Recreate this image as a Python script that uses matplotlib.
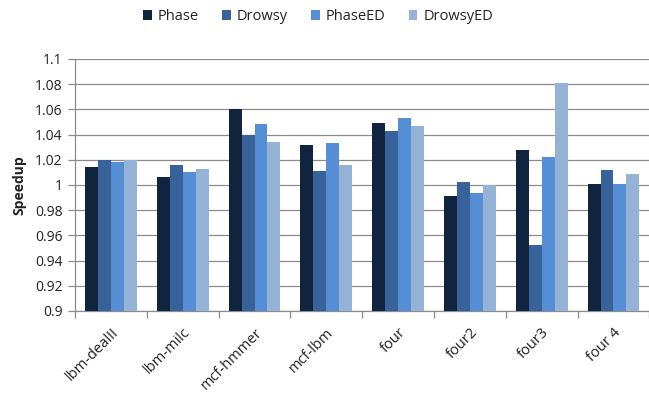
import numpy as np
import matplotlib as mpl
mpl.use('Agg')
import matplotlib.pyplot as plt
from matplotlib.ticker import FixedLocator

mpl.rcParams['font.family'] = ['Open Sans', 'DejaVu Sans']

benchmarks = ["lbm-dealII", "lbm-milc", "mcf-hmmer", "mcf-lbm",
              "four", "four2", "four3", "four 4"]
phase = [1.014, 1.006, 1.060, 1.032, 1.049, 0.991, 1.028, 1.001]
drowsy = [1.020, 1.016, 1.040, 1.011, 1.043, 1.002, 0.952, 1.012]
phase_ed = [1.018, 1.010, 1.048, 1.033, 1.053, 0.994, 1.022, 1.001]
drowsy_ed = [1.020, 1.013, 1.034, 1.016, 1.047, 1.000, 1.081, 1.009]

series = [("Phase", phase, "#10243f"),
          ("Drowsy", drowsy, "#37629a"),
          ("PhaseED", phase_ed, "#558ed5"),
          ("DrowsyED", drowsy_ed, "#95b3d7")]

fig = plt.figure(figsize=(6.49, 3.99), dpi=100)
ax = fig.add_axes([0.1156, 0.2206, 0.885, 0.6316])

x = np.arange(len(benchmarks))
width = 0.18
for i, (name, vals, color) in enumerate(series):
    ax.bar(x + (i - 1.5) * width, np.array(vals) - 0.9, width, bottom=0.9,
           color=color, label=name, zorder=3)

grid_col = "#8c8c8c"
text_col = "#222222"
ax.set_ylim(0.9, 1.1)
ax.set_yticks(np.arange(0.9, 1.1001, 0.02))
ax.set_yticklabels(["0.9", "0.92", "0.94", "0.96", "0.98", "1",
                    "1.02", "1.04", "1.06", "1.08", "1.1"], fontsize=10)
ax.yaxis.grid(True, color=grid_col, linewidth=0.9, zorder=0)
ax.tick_params(axis='y', length=5, color=grid_col, width=0.9, pad=4,
               labelcolor=text_col)

ax.set_xlim(-0.5, len(benchmarks) - 0.5)
ax.set_xticks(x)
ax.set_xticklabels(benchmarks, rotation=45, ha='right',
                   rotation_mode='anchor', fontsize=10.5)
ax.tick_params(axis='x', which='major', length=0, pad=10, labelcolor=text_col)
ax.xaxis.set_minor_locator(FixedLocator(np.arange(-0.5, len(benchmarks), 1)))
ax.tick_params(axis='x', which='minor', length=5, color=grid_col, width=0.9)

for side in ["top", "right"]:
    ax.spines[side].set_visible(False)
for side in ["left", "bottom"]:
    ax.spines[side].set_color(grid_col)
    ax.spines[side].set_linewidth(0.9)

ax.set_ylabel("Speedup", fontsize=10, fontweight='bold', labelpad=6,
              color=text_col)

fig.legend(loc='upper center', bbox_to_anchor=(0.49, 1.01), ncol=4,
           frameon=False, fontsize=10.5, handlelength=0.6, handleheight=0.6,
           handletextpad=0.4, columnspacing=1.6, labelcolor=text_col)

plt.savefig("out.png", dpi=100)
plt.close(fig)
